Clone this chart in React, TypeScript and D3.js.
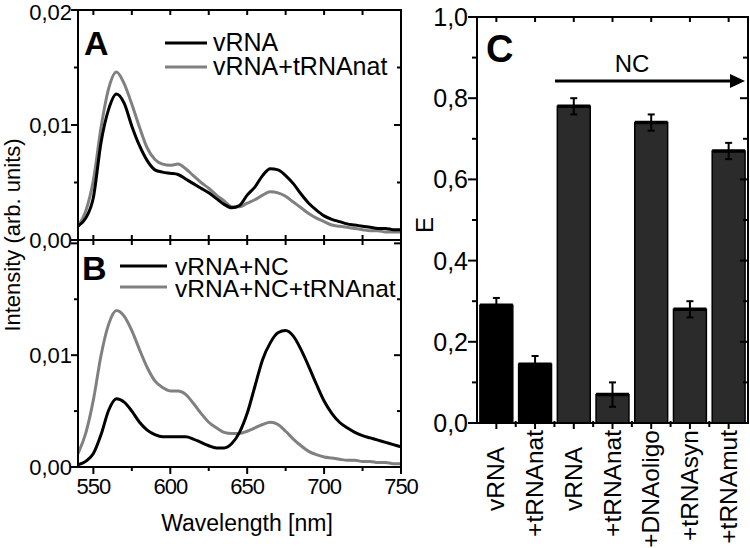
import React from 'react';
import * as d3 from 'd3';

// ---------- Data ----------
const wavelengths = [540, 545, 550, 555, 560, 565, 570, 575, 580, 585, 590, 595, 600, 605, 610, 615, 620, 625, 630, 635, 640, 645, 650, 655, 660, 665, 670, 675, 680, 685, 690, 695, 700, 705, 710, 715, 720, 725, 730, 735, 740, 745, 750];

const vRNA = [0.0012, 0.0019, 0.0037, 0.0085, 0.0114, 0.0127, 0.0119, 0.0099, 0.0082, 0.0069, 0.0061, 0.0059, 0.0058, 0.0057, 0.0053, 0.0049, 0.0045, 0.0041, 0.0036, 0.0031, 0.0028, 0.0030, 0.0039, 0.0046, 0.0056, 0.0062, 0.0061, 0.0056, 0.0049, 0.0040, 0.0032, 0.0026, 0.0021, 0.0018, 0.0016, 0.0014, 0.0013, 0.0012, 0.0011, 0.0010, 0.0010, 0.0009, 0.0009];
const vRNA_tRNAnat = [0.0012, 0.0025, 0.0052, 0.0098, 0.0132, 0.0146, 0.0136, 0.0118, 0.0098, 0.0080, 0.0070, 0.0066, 0.0065, 0.0066, 0.0062, 0.0056, 0.0050, 0.0045, 0.0039, 0.0034, 0.0029, 0.0029, 0.0032, 0.0035, 0.0039, 0.0042, 0.0041, 0.0038, 0.0033, 0.0028, 0.0023, 0.0019, 0.0016, 0.0013, 0.0012, 0.0011, 0.0010, 0.0009, 0.0008, 0.0008, 0.0007, 0.0007, 0.0007];
const vRNA_NC = [0.0002, 0.0005, 0.0012, 0.0029, 0.0051, 0.0061, 0.0058, 0.0050, 0.0040, 0.0033, 0.0029, 0.0027, 0.0027, 0.0027, 0.0027, 0.0025, 0.0022, 0.0019, 0.0017, 0.0017, 0.0021, 0.0031, 0.0048, 0.0072, 0.0096, 0.0111, 0.0120, 0.0122, 0.0117, 0.0105, 0.0090, 0.0074, 0.0059, 0.0048, 0.0040, 0.0035, 0.0031, 0.0028, 0.0026, 0.0024, 0.0022, 0.0020, 0.0018];
const vRNA_NC_tRNAnat = [0.0012, 0.0030, 0.0060, 0.0100, 0.0128, 0.0140, 0.0135, 0.0122, 0.0105, 0.0089, 0.0077, 0.0071, 0.0068, 0.0068, 0.0065, 0.0057, 0.0048, 0.0040, 0.0035, 0.0031, 0.0030, 0.0030, 0.0032, 0.0035, 0.0038, 0.0040, 0.0038, 0.0032, 0.0025, 0.0019, 0.0014, 0.0011, 0.0009, 0.0008, 0.0007, 0.0006, 0.0006, 0.0005, 0.0005, 0.0004, 0.0004, 0.0003, 0.0003];

const xTickLabels = ['550', '600', '650', '700', '750'];
const xMajorTicks = [550, 600, 650, 700, 750];
const xAllTicks = [550, 575, 600, 625, 650, 675, 700, 725, 750];
const yTicksAB = [0, 0.005, 0.01, 0.015, 0.02];
const yLabelsA = [{ v: 0, t: '0,00' }, { v: 0.01, t: '0,01' }, { v: 0.02, t: '0,02' }];
const yLabelsB = [{ v: 0, t: '0,00' }, { v: 0.01, t: '0,01' }];

const categories = ['vRNA', '+tRNAnat', 'vRNA', '+tRNAnat', '+DNAoligo', '+tRNAsyn', '+tRNAmut'];
const eValues = [0.29, 0.145, 0.78, 0.07, 0.74, 0.28, 0.67];
const eErrors = [0.018, 0.02, 0.02, 0.03, 0.02, 0.02, 0.02];
const withNC = [false, false, true, true, true, true, true];
const yTicksC = [0, 0.1, 0.2, 0.3, 0.4, 0.5, 0.6, 0.7, 0.8, 0.9, 1.0];
const yLabelsC = ['0,0', '0,2', '0,4', '0,6', '0,8', '1,0'];
const yLabelValuesC = [0, 0.2, 0.4, 0.6, 0.8, 1.0];

const FONT = '"Liberation Sans", Arial, Helvetica, sans-serif';

export default function App() {
  // ---- Panels A/B geometry ----
  const L = 78, R = 401;
  const aTop = 10, aBot = 240, bTop = 240, bBot = 467;
  const x = d3.scaleLinear().domain([540, 750]).range([L, R]);
  const yA = d3.scaleLinear().domain([0, 0.02]).range([aBot, aTop]);
  const yB = d3.scaleLinear().domain([0, 0.0203]).range([bBot, bTop]);

  const lineA = (vals: number[]) =>
    d3.line<number>().x((_, i) => x(wavelengths[i])).y((d) => yA(d)).curve(d3.curveMonotoneX)(vals) || '';
  const lineB = (vals: number[]) =>
    d3.line<number>().x((_, i) => x(wavelengths[i])).y((d) => yB(d)).curve(d3.curveMonotoneX)(vals) || '';

  // ---- Panel C geometry ----
  const cL = 477, cR = 748, cTop = 17, cBot = 423;
  const idx = categories.map((_, i) => String(i));
  const xc = d3.scaleBand().domain(idx).range([cL, cR]).paddingInner(0.15).paddingOuter(0.075);
  const yc = d3.scaleLinear().domain([0, 1]).range([cBot, cTop]);
  const bw = xc.bandwidth();

  const isMajorAB = (v: number) => Math.abs(v * 100 - Math.round(v * 100)) < 1e-9;
  const isMajorC = (v: number) => Math.abs(v * 5 - Math.round(v * 5)) < 1e-9;

  return (
    <svg width={750} height={548} style={{ position: 'absolute', left: 0, top: 0, background: '#fff' }} fontFamily={FONT}>
      <rect x={0} y={0} width={750} height={548} fill="#fff" />
      {/* ================= Panels A / B ================= */}
      <clipPath id="clipA"><rect x={L} y={aTop} width={R - L} height={aBot - aTop} /></clipPath>
      <clipPath id="clipB"><rect x={L} y={bTop} width={R - L} height={bBot - bTop} /></clipPath>
      <g clipPath="url(#clipA)">
        <path d={lineA(vRNA_tRNAnat)} fill="none" stroke="#808080" strokeWidth={3} />
        <path d={lineA(vRNA)} fill="none" stroke="#000" strokeWidth={3} />
      </g>
      <g clipPath="url(#clipB)">
        <path d={lineB(vRNA_NC_tRNAnat)} fill="none" stroke="#808080" strokeWidth={3} />
        <path d={lineB(vRNA_NC)} fill="none" stroke="#000" strokeWidth={3} />
      </g>
      {/* frames */}
      <rect x={L} y={aTop} width={R - L} height={aBot - aTop} fill="none" stroke="#000" strokeWidth={2} />
      <rect x={L} y={bTop} width={R - L} height={bBot - bTop} fill="none" stroke="#000" strokeWidth={2} />
      {/* y ticks A */}
      {yTicksAB.map((v) => {
        const len = isMajorAB(v) ? 7 : 4;
        return (
          <g key={'ya' + v}>
            <line x1={L - len} x2={L} y1={yA(v)} y2={yA(v)} stroke="#000" strokeWidth={2} />
            <line x1={R - len} x2={R} y1={yA(v)} y2={yA(v)} stroke="#000" strokeWidth={2} />
          </g>
        );
      })}
      {yTicksAB.filter((v) => yB(v) >= bTop).map((v) => {
        const len = isMajorAB(v) ? 7 : 4;
        return (
          <g key={'yb' + v}>
            <line x1={L - len} x2={L} y1={yB(v)} y2={yB(v)} stroke="#000" strokeWidth={2} />
            <line x1={R - len} x2={R} y1={yB(v)} y2={yB(v)} stroke="#000" strokeWidth={2} />
          </g>
        );
      })}
      {/* x ticks */}
      {xAllTicks.map((w) => {
        const major = xMajorTicks.includes(w);
        return (
          <g key={'xt' + w}>
            <line x1={x(w)} x2={x(w)} y1={aTop} y2={aTop + 5} stroke="#000" strokeWidth={2} />
            <line x1={x(w)} x2={x(w)} y1={aBot} y2={aBot - 5} stroke="#000" strokeWidth={2} />
            <line x1={x(w)} x2={x(w)} y1={bTop} y2={bTop + 5} stroke="#000" strokeWidth={2} />
            <line x1={x(w)} x2={x(w)} y1={bBot} y2={bBot + (major ? 7 : 4)} stroke="#000" strokeWidth={2} />
          </g>
        );
      })}
      {/* tick labels */}
      {yLabelsA.map((d) => (
        <text key={'la' + d.t} x={72} y={yA(d.v)} dy={d.v === 0.02 ? '0.46em' : '0.38em'} textAnchor="end" fontSize={22}>{d.t}</text>
      ))}
      {yLabelsB.map((d) => (
        <text key={'lb' + d.t} x={72} y={yB(d.v)} dy="0.36em" textAnchor="end" fontSize={22}>{d.t}</text>
      ))}
      {xMajorTicks.map((w, i) => (
        <text key={'lx' + w} x={x(w)} y={494} textAnchor="middle" fontSize={22} letterSpacing={-1}>{xTickLabels[i]}</text>
      ))}
      <text x={247} y={531} textAnchor="middle" fontSize={23}>Wavelength [nm]</text>
      <text transform="translate(20,235) rotate(-90)" textAnchor="middle" fontSize={22}>Intensity (arb. units)</text>

      {/* panel letters & legends */}
      <text x={84} y={55} fontSize={34} fontWeight="bold">A</text>
      <line x1={165} x2={207} y1={43} y2={43} stroke="#000" strokeWidth={3} />
      <text x={213} y={51} fontSize={25}>vRNA</text>
      <line x1={165} x2={207} y1={67} y2={67} stroke="#808080" strokeWidth={3} />
      <text x={213} y={75} fontSize={25}>vRNA+tRNAnat</text>

      <text x={82} y={280} fontSize={34} fontWeight="bold">B</text>
      <line x1={120} x2={167} y1={266} y2={266} stroke="#000" strokeWidth={3} />
      <text x={175} y={275} fontSize={24.5}>vRNA+NC</text>
      <line x1={120} x2={167} y1={287} y2={287} stroke="#808080" strokeWidth={3} />
      <text x={175} y={297} fontSize={24.5}>vRNA+NC+tRNAnat</text>

      {/* ================= Panel C ================= */}
      {categories.map((c, i) => {
        const x0 = xc(String(i)) as number;
        const top = yc(eValues[i]);
        const fill = withNC[i] ? '#2b2b2b' : '#000';
        return (
          <g key={'bar' + i}>
            <rect x={x0} y={top} width={bw} height={cBot - top} fill={fill} stroke="#000" strokeWidth={1.5} />
            <line x1={x0} x2={x0 + bw} y1={top} y2={top} stroke="#000" strokeWidth={3.5} />
          </g>
        );
      })}
      {categories.map((c, i) => {
        const cx = (xc(String(i)) as number) + bw / 2;
        const hi = yc(eValues[i] + eErrors[i]);
        const lo = yc(eValues[i] - eErrors[i]);
        return (
          <g key={'err' + i} stroke="#000" strokeWidth={2}>
            <line x1={cx} x2={cx} y1={hi} y2={lo} />
            <line x1={cx - 3.5} x2={cx + 3.5} y1={hi} y2={hi} />
            <line x1={cx - 3.5} x2={cx + 3.5} y1={lo} y2={lo} />
          </g>
        );
      })}
      <rect x={cL} y={cTop} width={cR - cL} height={cBot - cTop} fill="none" stroke="#000" strokeWidth={2} />
      {yTicksC.map((v) => {
        const major = isMajorC(v);
        return (
          <g key={'yc' + v}>
            <line x1={cL - (major ? 9 : 5)} x2={cL} y1={yc(v)} y2={yc(v)} stroke="#000" strokeWidth={2} />
            <line x1={cR - (major ? 8 : 5)} x2={cR} y1={yc(v)} y2={yc(v)} stroke="#000" strokeWidth={2} />
          </g>
        );
      })}
      {categories.map((c, i) => {
        const x0 = xc(String(i)) as number;
        const cx = x0 + bw / 2;
        const edge = x0 + bw + (xc.step() - bw) / 2;
        return (
          <g key={'xtc' + i} stroke="#000" strokeWidth={2}>
            <line x1={cx} x2={cx} y1={cTop} y2={cTop + 5} />
            <line x1={cx} x2={cx} y1={cBot} y2={cBot + 6} />
            {i < categories.length - 1 && <line x1={edge} x2={edge} y1={cBot - 2} y2={cBot + 4} />}
          </g>
        );
      })}
      {yLabelValuesC.map((v, i) => (
        <text key={'lyc' + i} x={468} y={yc(v)} dy="0.36em" textAnchor="end" fontSize={25}>{yLabelsC[i]}</text>
      ))}
      {categories.map((c, i) => {
        const cx = (xc(String(i)) as number) + bw / 2;
        const start = c.startsWith('+') ? 430 : 447;
        return (
          <text key={'lc' + i} transform={`translate(${cx + 8},${start}) rotate(-90)`} textAnchor="end" fontSize={24.5}>{c}</text>
        );
      })}
      <text transform="translate(433,225) rotate(-90)" textAnchor="middle" fontSize={24}>E</text>
      <text x={486} y={62} fontSize={38} fontWeight="bold">C</text>
      <text x={632} y={72} textAnchor="middle" fontSize={24}>NC</text>
      <line x1={555} x2={733} y1={81} y2={81} stroke="#000" strokeWidth={3} />
      <path d="M730,74 L745,81 L730,88 Z" fill="#000" />
    </svg>
  );
}
